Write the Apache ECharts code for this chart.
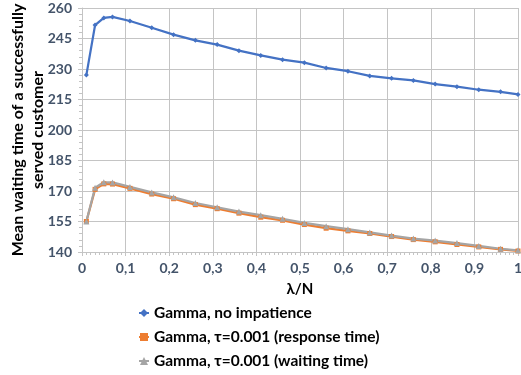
<!DOCTYPE html>
<html>
<head>
<meta charset="utf-8">
<script src="https://cdn.jsdelivr.net/npm/echarts@6/dist/echarts.min.js"></script>
<style>
  html, body { margin: 0; padding: 0; background: #fff; }
  #chart { width: 521px; height: 375px; }
</style>
</head>
<body>
<div id="chart"></div>
<script>
// load values (lambda/N)
var loads = [0.01, 0.03, 0.05, 0.07, 0.11, 0.16, 0.21, 0.26, 0.31, 0.36, 0.41, 0.46,
             0.51, 0.56, 0.61, 0.66, 0.71, 0.76, 0.81, 0.86, 0.91, 0.96, 1.0];
var noImpatience = [227, 251.6, 255.1, 255.6, 253.6, 250.3, 246.9, 244.1, 242, 239, 236.7, 234.6,
                    233.1, 230.5, 228.9, 226.6, 225.4, 224.4, 222.6, 221.3, 219.8, 218.8, 217.5];
var responseTime = [155, 170.8, 173.5, 173.4, 171.3, 168.5, 166.2, 163.3, 161.3, 159.1, 157.1, 155.6,
                    153.5, 151.7, 150.4, 149.1, 147.6, 146.1, 145, 143.7, 142.5, 141.3, 140.5];
var waitingTime = [155, 171.6, 174.3, 174.2, 172, 169.3, 166.9, 164.1, 162, 159.9, 158.1, 156.3,
                   154.3, 152.7, 151.2, 149.6, 148.1, 146.6, 145.6, 144.4, 143, 141.6, 140.8];
var seriesNames = ['Gamma, no impatience', 'Gamma, τ=0.001 (response time)', 'Gamma, τ=0.001 (waiting time)'];

function pairs(ys) {
    return loads.map(function (x, i) { return [x, ys[i]]; });
}

var chart = echarts.init(document.getElementById('chart'));
var fontFam = 'Lato, "Open Sans", sans-serif';
var labelColor = '#44546a';
var gridColor = '#c4c4c4';

var option = {
    animation: false,
    color: ['#4472c4', '#ed7d31', '#a5a5a5'],
    grid: { left: 82, right: 3, top: 8, bottom: 123, containLabel: false, outerBoundsMode: 'none' },
    legend: {
        orient: 'vertical',
        left: 138,
        top: 305,
        padding: 0,
        itemWidth: 10,
        itemHeight: 10,
        itemGap: 8,
        textStyle: { fontFamily: fontFam, fontWeight: 'bold', fontSize: 15.5, color: '#000' },
        data: seriesNames
    },
    xAxis: {
        type: 'value',
        min: 0, max: 1, interval: 0.1,
        name: 'λ/N',
        nameLocation: 'middle',
        nameGap: 30,
        nameTextStyle: { fontFamily: fontFam, fontWeight: 'bold', fontSize: 15, color: '#000' },
        axisLine: { lineStyle: { color: gridColor } },
        axisTick: { show: true, length: 4, lineStyle: { color: gridColor } },
        minorTick: { show: true, splitNumber: 10, length: 3, lineStyle: { color: gridColor } },
        splitLine: { lineStyle: { color: gridColor } },
        axisLabel: {
            fontFamily: fontFam, fontWeight: 'bold', fontSize: 14, color: labelColor, margin: 9,
            formatter: function (v) { return String(Math.round(v * 10) / 10).replace('.', ','); }
        }
    },
    yAxis: {
        type: 'value',
        min: 140, max: 260, interval: 15,
        name: 'Mean waiting time of a successfully\nserved customer',
        nameLocation: 'middle',
        nameGap: 34,
        nameMoveOverlap: false,
        nameTextStyle: { fontFamily: fontFam, fontWeight: 'bold', fontSize: 16, color: '#000', lineHeight: 20 },
        axisLine: { show: true, lineStyle: { color: gridColor } },
        axisTick: { show: true, length: 4, lineStyle: { color: gridColor } },
        minorTick: { show: true, splitNumber: 5, length: 3, lineStyle: { color: gridColor } },
        splitLine: { lineStyle: { color: gridColor } },
        axisLabel: { fontFamily: fontFam, fontWeight: 'bold', fontSize: 14, color: labelColor, margin: 10 }
    },
    series: [
        {
            name: seriesNames[0], type: 'line', data: pairs(noImpatience),
            symbol: 'diamond', symbolSize: 5, lineStyle: { width: 2.25 }
        },
        {
            name: seriesNames[1], type: 'line', data: pairs(responseTime),
            symbol: 'rect', symbolSize: 5, lineStyle: { width: 2.25 }
        },
        {
            name: seriesNames[2], type: 'line', data: pairs(waitingTime),
            symbol: 'triangle', symbolSize: 6, lineStyle: { width: 2.25 }
        }
    ]
};
chart.setOption(option);
</script>
</body>
</html>
